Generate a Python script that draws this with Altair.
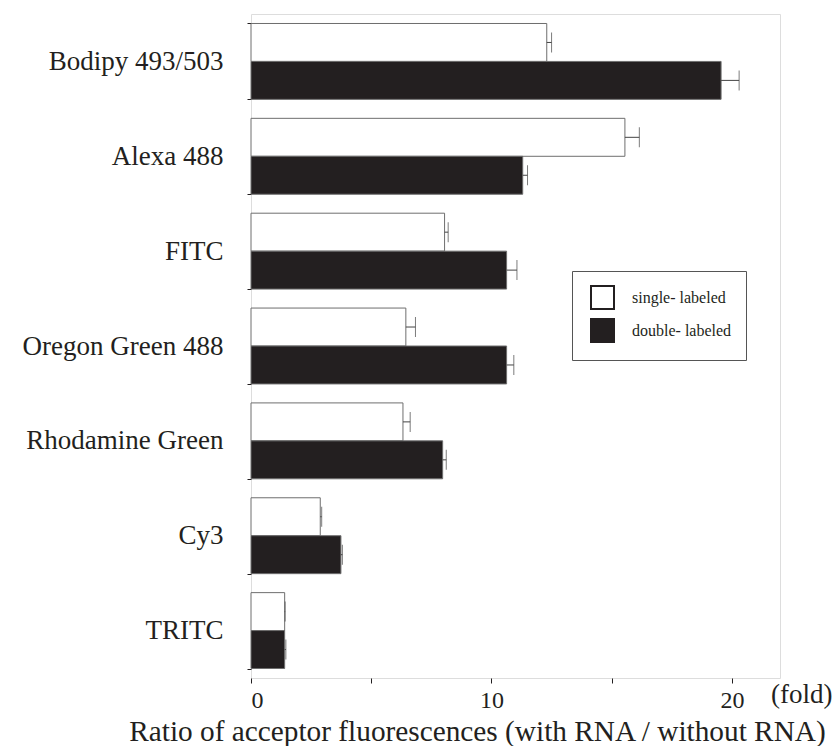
import altair as alt
import pandas as pd

categories = ["Bodipy 493/503", "Alexa 488", "FITC", "Oregon Green 488",
              "Rhodamine Green", "Cy3", "TRITC"]
series = ["single- labeled", "double- labeled"]
single_vals = [12.3, 15.55, 8.05, 6.44, 6.32, 2.88, 1.4]
single_err = [0.2, 0.6, 0.15, 0.4, 0.3, 0.06, 0.02]
double_vals = [19.55, 11.3, 10.63, 10.63, 7.97, 3.74, 1.4]
double_err = [0.75, 0.2, 0.43, 0.3, 0.15, 0.06, 0.05]
x_ticks = [0, 5, 10, 15, 20]
x_domain = [0, 22]
unit_label = ["(fold)"]
x_title = "Ratio of acceptor fluorescences (with RNA / without RNA)"

rows = []
for i, c in enumerate(categories):
    rows.append(dict(dye=c, label=series[0], value=single_vals[i], err=single_err[i]))
    rows.append(dict(dye=c, label=series[1], value=double_vals[i], err=double_err[i]))
df = pd.DataFrame(rows)
df["hi"] = df["value"] + df["err"]

FONT = "Liberation Serif"
INK = "#231f20"

y_enc = alt.Y(
    "dye:N", sort=categories,
    scale=alt.Scale(paddingInner=0.2, paddingOuter=0.1),
    axis=alt.Axis(title=None, labelFont=FONT, labelFontSize=27, labelColor=INK,
                  labelPadding=24, labelLimit=400, tickSize=4, tickColor=INK,
                  tickBand="extent", domain=False, grid=False),
)
yoff = alt.YOffset("label:N", sort=series)
x_enc = alt.X(
    "value:Q",
    scale=alt.Scale(domain=x_domain, nice=False),
    axis=alt.Axis(values=x_ticks, grid=False,
                  labelExpr="datum.value % 10 == 0 ? datum.label : ''",
                  title=x_title, labelFont=FONT, labelFontSize=24, labelColor=INK,
                  labelPadding=5, tickSize=5, tickColor=INK, domain=False,
                  titleFont=FONT, titleFontSize=29.3, titleFontWeight="normal",
                  titleColor=INK, titleX=226, titleY=62, titleAlign="center",
                  titleBaseline="alphabetic"),
)

bars = alt.Chart(df).mark_bar(stroke="#6e6e6e", strokeWidth=1).encode(
    x=x_enc, y=y_enc, yOffset=yoff,
    fill=alt.Fill("label:N", sort=series,
                  scale=alt.Scale(domain=series, range=["#ffffff", INK]),
                  legend=alt.Legend(title=None, orient="none", legendX=321, legendY=257,
                                    direction="vertical", symbolType="square",
                                    symbolSize=529, symbolStrokeColor=INK,
                                    symbolStrokeWidth=2, symbolOpacity=1,
                                    symbolOffset=4,
                                    labelFont=FONT, labelFontSize=16, labelColor=INK,
                                    labelOffset=17, rowPadding=2, padding=14,
                                    strokeColor="#555555", fillColor="#ffffff")),
)
errs = alt.Chart(df).mark_rule(color="#444444", strokeWidth=1).encode(
    x="value:Q", x2="hi:Q", y=y_enc, yOffset=yoff)
caps = alt.Chart(df).mark_tick(color="#444444", thickness=1, size=20,
                               orient="vertical").encode(
    x="hi:Q", y=y_enc, yOffset=yoff)

fold = alt.Chart(pd.DataFrame({"t": unit_label})).mark_text(
    font=FONT, fontSize=27, align="left", baseline="middle", color=INK, dx=-9
).encode(x=alt.datum(x_domain[1]), y=alt.value(681), text="t:N")

chart = alt.layer(bars, errs, caps, fold).properties(
    width=529, height=664, autosize="none",
    padding={"left": 251, "top": 14, "right": 58, "bottom": 68},
).configure_view(stroke=INK, strokeWidth=1.5).configure(
    background="white", font=FONT)

chart.save("out.html", embed_options={"renderer": "svg", "actions": False})
